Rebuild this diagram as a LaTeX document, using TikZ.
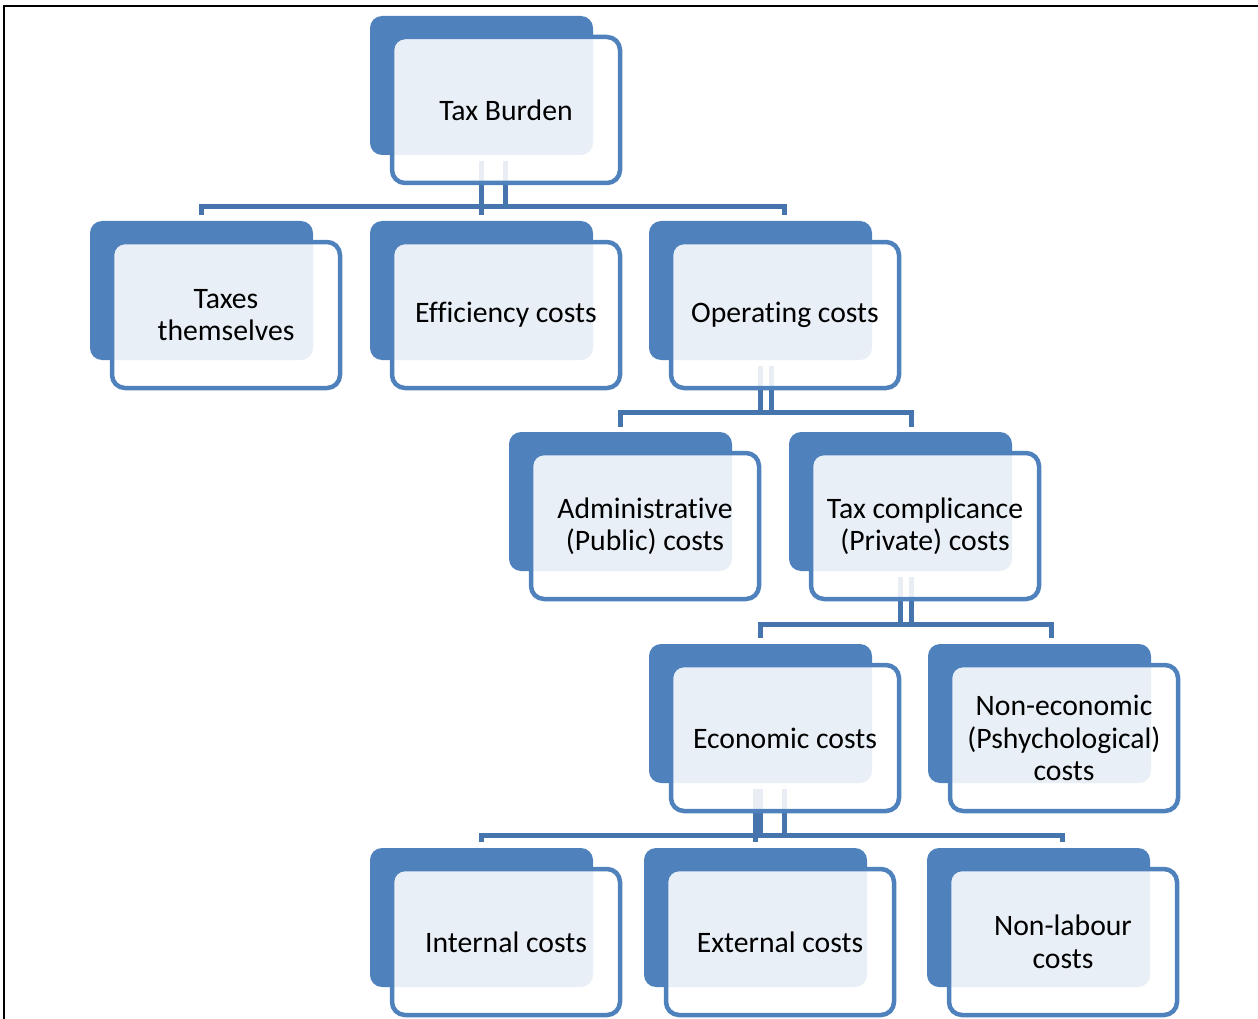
\documentclass[tikz,border=0pt]{standalone}
\usepackage{fontspec}
\setmainfont{Carlito}[Ligatures=NoCommon]
\usetikzlibrary{calc}
\definecolor{backc}{HTML}{4F81BD}
\definecolor{connc}{HTML}{4674AC}
\begin{document}
\begin{tikzpicture}[x=1pt,y=-1pt,
  backbox/.style={fill=backc, rounded corners=12pt, minimum width=223pt, minimum height=139pt, inner sep=0pt, outer sep=0pt},
  frontbox/.style={draw=backc, line width=4.5pt, fill=white, fill opacity=0.88, text opacity=1, rounded corners=13pt, minimum width=228pt, minimum height=146pt, inner sep=0pt, outer sep=0pt, align=center, font=\fontsize{29.7}{32.5}\selectfont},
  conn/.style={draw=connc, line width=5pt},
  frame/.style={draw=black, line width=2pt}]
\useasboundingbox (0,0) rectangle (1258,1019);
% frame
\coordinate (fA) at (1258,6);
\coordinate (fB) at (4,6);
\coordinate (fC) at (4,1019);
\draw[frame] (fA) -- (fB) -- (fC);
% back shapes
\node[backbox] (tbB) at (481.5,85.5) {};
\node[backbox] (tsB) at (201.5,290.5) {};
\node[backbox] (efB) at (481.5,290.5) {};
\node[backbox] (opB) at (760.5,290.5) {};
\node[backbox] (adB) at (620.5,501.5) {};
\node[backbox] (tcB) at (900.5,501.5) {};
\node[backbox] (ecB) at (760.5,713.5) {};
\node[backbox] (neB) at (1039.5,713.5) {};
\node[backbox] (inB) at (481.5,917.5) {};
\node[backbox] (exB) at (755.5,917.5) {};
\node[backbox] (nlB) at (1038.5,917.5) {};
% bar levels
\coordinate (r1) at (0,207);
\coordinate (r2) at (0,412);
\coordinate (r3) at (0,624.5);
\coordinate (r4) at (0,835.5);
% level 1 connectors
\draw[conn] ($(tbB.south)+(0,6)$) -- (tbB.south |- r1);
\draw[conn] ($(tbB.south)+(24,6)$) -- ($(tbB.south |- r1)+(24,0)$);
\draw[conn] ($(tsB.center |- r1)+(0,8)$) -- (tsB.center |- r1) -- ($(opB.center |- r1)+(24,0)$) -- ($(opB.center |- r1)+(24,8)$);
\draw[conn] (efB.center |- r1) -- ($(efB.center |- r1)+(0,8)$);
% level 2 connectors
\draw[conn] ($(opB.south)+(0,6)$) -- (opB.south |- r2);
\draw[conn] ($(opB.south)+(10.5,6)$) -- ($(opB.south |- r2)+(10.5,0)$);
\draw[conn] ($(adB.center |- r2)+(0,15)$) -- (adB.center |- r2) -- ($(tcB.center |- r2)+(10.5,0)$) -- ($(tcB.center |- r2)+(10.5,15)$);
% level 3 connectors
\draw[conn] ($(tcB.south)+(0,6)$) -- (tcB.south |- r3);
\draw[conn] ($(tcB.south)+(10.5,6)$) -- ($(tcB.south |- r3)+(10.5,0)$);
\draw[conn] ($(ecB.center |- r3)+(0,13.5)$) -- (ecB.center |- r3) -- ($(neB.center |- r3)+(12,0)$) -- ($(neB.center |- r3)+(12,13.5)$);
% level 4 connectors
\draw[conn] ($(ecB.south)+(0,6)$) -- (ecB.south |- r4);
\draw[conn] ($(ecB.south)+(-5,6)$) -- ($(ecB.south |- r4)+(-5,0)$);
\draw[conn] ($(ecB.south)+(24,6)$) -- ($(ecB.south |- r4)+(24,0)$);
\draw[conn] ($(inB.center |- r4)+(0,6.5)$) -- (inB.center |- r4) -- ($(nlB.center |- r4)+(24,0)$) -- ($(nlB.center |- r4)+(24,6.5)$);
\draw[conn] (exB.center |- r4) -- ($(exB.center |- r4)+(0,6.5)$);
% front boxes
\node[frontbox] (tb) at ($(tbB)+(24.5,24.5)$) {Tax Burden};
\node[frontbox] (ts) at ($(tsB)+(24.5,24.5)$) {Taxes\\themselves};
\node[frontbox] (ef) at ($(efB)+(24.5,24.5)$) {Efficiency costs};
\node[frontbox] (op) at ($(opB)+(24.5,24.5)$) {Operating costs};
\node[frontbox] (ad) at ($(adB)+(24.5,24.5)$) {Administrative\\(Public) costs};
\node[frontbox] (tc) at ($(tcB)+(24.5,24.5)$) {Tax complicance\\(Private) costs};
\node[frontbox] (ec) at ($(ecB)+(24.5,24.5)$) {Economic costs};
\node[frontbox] (ne) at ($(neB)+(24.5,24.5)$) {Non-economic\\(Pshychological)\\costs};
\node[frontbox] (in) at ($(inB)+(24.5,24.5)$) {Internal costs};
\node[frontbox] (ex) at ($(exB)+(24.5,24.5)$) {External costs};
\node[frontbox] (nl) at ($(nlB)+(24.5,24.5)$) {Non-labour\\costs};
\end{tikzpicture}
\end{document}
